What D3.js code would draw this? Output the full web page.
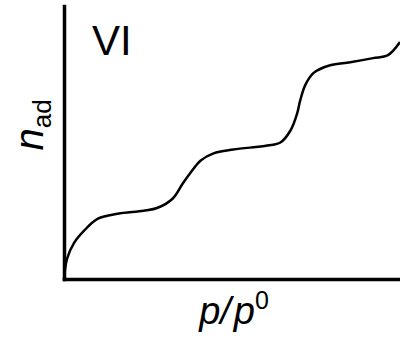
<!DOCTYPE html>
<html>
<head>
<meta charset="utf-8">
<script src="https://cdn.jsdelivr.net/npm/d3@7"></script>
<style>
  body { margin: 0; background: #fff; }
  text { font-family: "Liberation Sans", Arial, sans-serif; fill: #000; }
</style>
</head>
<body>
<svg id="canvas" width="400" height="340"></svg>
<script>
// relative pressure p/p0 and adsorbed amount (arbitrary units)
let pressure = [0, 0.009, 0.030, 0.059, 0.101, 0.160, 0.237, 0.279, 0.323, 0.353, 0.377, 0.407,
                0.445, 0.504, 0.605, 0.644, 0.674, 0.694, 0.703, 0.718, 0.742, 0.792, 0.852, 0.920, 0.964, 1.0];
let amount = [0, 0.074, 0.132, 0.176, 0.221, 0.239, 0.250, 0.261, 0.294, 0.349, 0.390, 0.434,
              0.460, 0.474, 0.489, 0.500, 0.544, 0.607, 0.654, 0.710, 0.754, 0.783, 0.794, 0.809, 0.820, 0.868];

let typeLabel = "VI";

let canvas = d3.select('#canvas');

let x = d3.scaleLinear().domain([0, 1]).range([64, 400]);
let y = d3.scaleLinear().domain([0, 1]).range([279, 6]);

// axes: only the domain lines, no ticks
canvas.append('g')
    .attr('transform', 'translate(0,' + y(0) + ')')
    .call(d3.axisBottom(x).tickValues([]).tickSizeOuter(0));
canvas.append('g')
    .attr('transform', 'translate(' + x(0) + ',0)')
    .call(d3.axisLeft(y).tickValues([]).tickSizeOuter(0));

canvas.selectAll('.domain')
    .attr('stroke', '#000')
    .attr('stroke-width', 3.5)
    .attr('stroke-linecap', 'square');

let points = pressure.map((p, i) => [p, amount[i]]);

let line = d3.line()
    .x(d => x(d[0]))
    .y(d => y(d[1]))
    .curve(d3.curveCatmullRom.alpha(0.5));

canvas.append('path')
    .datum(points)
    .attr('d', line)
    .attr('fill', 'none')
    .attr('stroke', '#000')
    .attr('stroke-width', 2.5)
    .attr('stroke-linejoin', 'round');

// isotherm type label
canvas.append('text')
    .attr('x', 92)
    .attr('y', 55)
    .attr('font-size', 42)
    .text(typeLabel);

// y label n_ad
let ylab = canvas.append('text')
    .attr('transform', 'translate(43,125) rotate(-90)')
    .attr('text-anchor', 'middle')
    .attr('font-size', 40);
ylab.append('tspan').attr('font-style', 'italic').text('n');
ylab.append('tspan').attr('font-size', 26).attr('dy', 8).text('ad');

// x label p/p0
let xlab = canvas.append('text')
    .attr('x', 234)
    .attr('y', 324)
    .attr('text-anchor', 'middle')
    .attr('font-size', 38);
xlab.append('tspan').attr('font-style', 'italic').text('p/');
xlab.append('tspan').attr('font-style', 'italic').attr('dx', 3).text('p');
xlab.append('tspan').attr('font-size', 25).attr('dy', -15).text('0');
</script>
</body>
</html>
